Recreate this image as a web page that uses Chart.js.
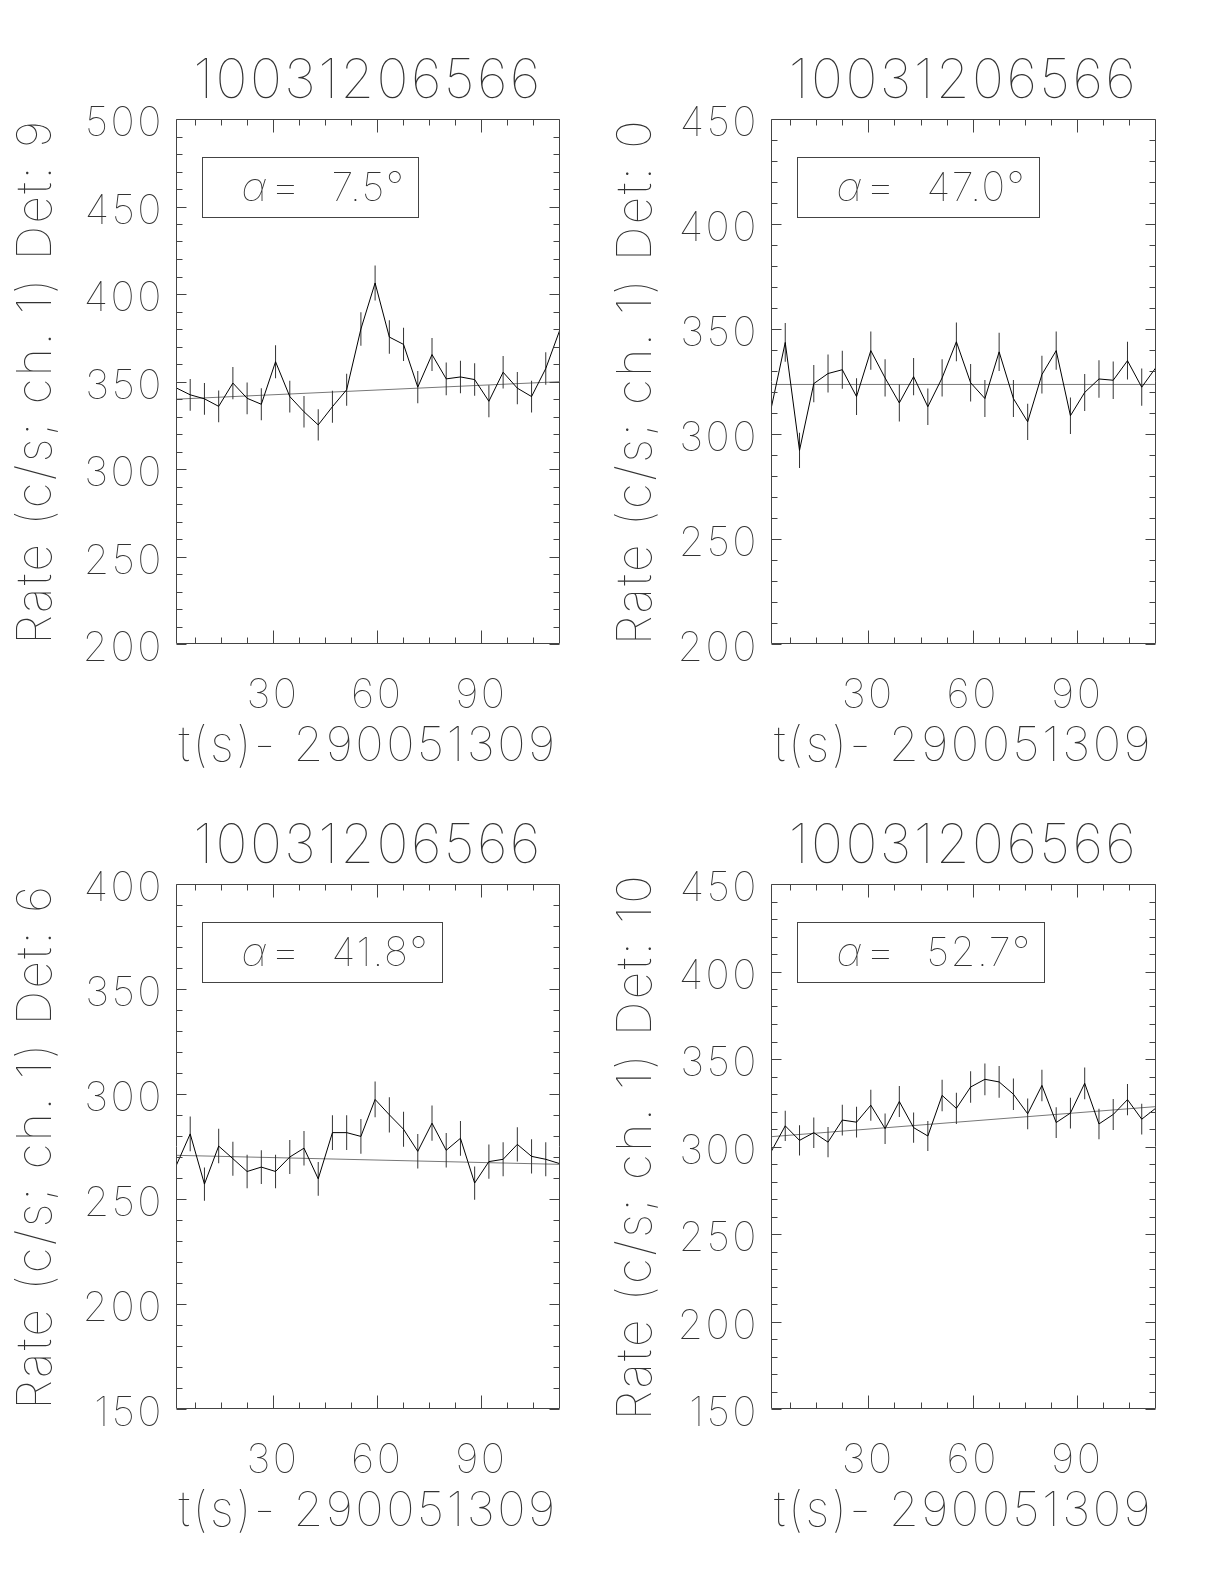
<!DOCTYPE html>
<html><head><meta charset="utf-8">
<script src="https://cdn.jsdelivr.net/npm/chart.js@4/dist/chart.umd.min.js"></script>
<style>
html,body{margin:0;padding:0;background:#fff;}
body{width:1224px;height:1584px;position:relative;overflow:hidden;}
.panel{position:absolute;width:612px;height:792px;}
</style></head><body>
<div class="panel" style="left:0;top:0"><canvas id="c1" width="612" height="792"></canvas></div>
<div class="panel" style="left:600px;top:0"><canvas id="c2" width="612" height="792"></canvas></div>
<div class="panel" style="left:0;top:765px"><canvas id="c3" width="612" height="792"></canvas></div>
<div class="panel" style="left:600px;top:765px"><canvas id="c4" width="612" height="792"></canvas></div>
<script>
// ---- data ----
const times = [2.05, 6.14, 10.24, 14.34, 18.43, 22.53, 26.62, 30.72, 34.82, 38.91, 43.01, 47.10, 51.20, 55.30,
               59.39, 63.49, 67.58, 71.68, 75.78, 79.87, 83.97, 88.06, 92.16, 96.26, 100.35, 104.45, 108.54, 112.64];
const xMinorTicks = [7.5, 15, 22.5, 30, 37.5, 45, 52.5, 60, 67.5, 75, 82.5, 90, 97.5, 105];
const xMajorTicks = [30, 60, 90];
const plotTitle = '10031206566';
const xTitle = 't(s)- 290051309';

const rateDet9 = [346.4, 342.4, 340.1, 335.8, 349.1, 340.4, 337.0, 361.3, 341.4, 332.7, 325.2, 335.6, 345.3, 380.0,
                  406.3, 375.4, 371.2, 346.8, 365.4, 351.5, 352.6, 351.1, 338.7, 355.3, 346.2, 341.4, 357.4, 379.7];
const errDet9  = [9.2, 9.1, 9.1, 9.1, 9.2, 9.1, 9.1, 9.4, 9.1, 9.0, 8.9, 9.1, 9.2, 9.6,
                  10.0, 9.6, 9.5, 9.2, 9.4, 9.3, 9.3, 9.3, 9.1, 9.3, 9.2, 9.1, 9.3, 9.6];
const fitDet9  = [339.9, 349.9];

const rateDet0 = [311.9, 343.6, 292.2, 324.0, 328.8, 330.6, 317.8, 339.7, 326.7, 314.8, 327.3, 313.0, 326.7, 343.9,
                  324.4, 316.9, 339.1, 316.9, 305.8, 328.3, 339.7, 308.7, 319.8, 326.2, 325.6, 334.9, 322.3, 331.7];
const errDet0  = [8.7, 9.2, 8.4, 8.9, 9.0, 9.0, 8.8, 9.1, 8.9, 8.8, 8.9, 8.7, 8.9, 9.2,
                  8.9, 8.8, 9.1, 8.8, 8.6, 9.0, 9.1, 8.7, 8.8, 8.9, 8.9, 9.0, 8.9, 9.0];
const fitDet0  = [323.6, 323.6];

const rateDet6 = [265.7, 281.0, 257.1, 275.2, 269.2, 263.1, 265.2, 263.1, 270.0, 274.2, 259.6, 281.6, 281.6, 279.8,
                  297.4, 290.1, 283.2, 272.7, 286.1, 273.2, 278.9, 257.6, 267.8, 268.9, 276.0, 270.3, 268.9, 266.8];
const errDet6  = [8.1, 8.3, 7.9, 8.2, 8.1, 8.0, 8.0, 8.0, 8.1, 8.2, 8.0, 8.3, 8.3, 8.3,
                  8.5, 8.4, 8.3, 8.2, 8.4, 8.2, 8.3, 7.9, 8.1, 8.1, 8.2, 8.1, 8.1, 8.1];
const fitDet6  = [270.8, 266.5];

const rateDet10 = [296.9, 311.8, 303.5, 307.9, 302.5, 315.1, 313.9, 323.6, 310.2, 325.7, 310.8, 306.0, 329.2, 321.8,
                   334.0, 338.4, 336.9, 329.9, 318.7, 334.9, 313.7, 319.1, 336.1, 312.9, 318.3, 326.8, 315.6, 322.0];
const errDet10  = [8.5, 8.7, 8.6, 8.7, 8.6, 8.8, 8.8, 8.9, 8.7, 8.9, 8.7, 8.6, 9.0, 8.9,
                   9.0, 9.1, 9.1, 9.0, 8.8, 9.0, 8.8, 8.8, 9.1, 8.7, 8.8, 8.9, 8.8, 8.9];
const fitDet10  = [305.6, 322.8];

const detectors = ['9', '0', '6', '10'];
const alphas = ['7.5', '47.0', '41.8', '52.7'];
const yRanges = [[200, 500], [200, 450], [150, 400], [150, 450]];
const rates = [rateDet9, rateDet0, rateDet6, rateDet10];
const errs = [errDet9, errDet0, errDet6, errDet10];
const fits = [fitDet9, fitDet0, fitDet6, fitDet10];

// ---- layout (pixels) ----
const canvasIds = ['c1', 'c2', 'c3', 'c4'];
const leftWidths = [176, 171, 176, 171];
const rightPads = [52, 56, 52, 56];

const FONT = "Inter, 'DejaVu Sans', sans-serif";
const TXT = '#333';
const W = 100;
Chart.defaults.font.family = FONT;
Chart.defaults.font.weight = W;
Chart.defaults.color = TXT;

const spacing = {
  id: 'spacing',
  beforeDraw(chart) { chart.ctx.letterSpacing = '2.5px'; }
};

const frameTicks = {
  id: 'frameTicks',
  afterDatasetsDraw(chart) {
    const {ctx, chartArea: a, scales: {x, y}} = chart;
    ctx.save();
    ctx.strokeStyle = '#444';
    ctx.lineWidth = 1;
    const L = Math.round(a.left) + 0.5, R = Math.round(a.right) - 0.5;
    const T = Math.round(a.top) + 0.5, B = Math.round(a.bottom) - 0.5;
    ctx.beginPath();
    ctx.rect(L, T, R - L, B - T);
    x.ticks.forEach(t => {
      const px = Math.round(x.getPixelForValue(t.value)) + 0.5;
      const len = xMajorTicks.includes(t.value) ? 13 : 6;
      ctx.moveTo(px, B); ctx.lineTo(px, B - len);
      ctx.moveTo(px, T); ctx.lineTo(px, T + len);
    });
    y.ticks.forEach(t => {
      const py = Math.round(y.getPixelForValue(t.value)) + 0.5;
      const len = t.value % 50 === 0 ? 10 : 6;
      ctx.moveTo(L, py); ctx.lineTo(L + len, py);
      ctx.moveTo(R, py); ctx.lineTo(R - len, py);
    });
    ctx.stroke();
    ctx.restore();
  }
};

const alphaBox = {
  id: 'alphaBox',
  afterDraw(chart, args, opts) {
    const {ctx, chartArea: a} = chart;
    ctx.save();
    ctx.letterSpacing = '1.5px';
    const bx = Math.round(a.left + 26) + 0.5, by = Math.round(a.top + 38) + 0.5;
    const ty = by + 31;
    ctx.fillStyle = TXT;
    ctx.textBaseline = 'middle';
    ctx.textAlign = 'left';
    ctx.font = "italic " + W + " 40px " + FONT;
    ctx.fillText('\u03B1', bx + 39, ty);
    ctx.font = W + " 40px " + FONT;
    ctx.save();
    ctx.translate(bx + 67, ty);
    ctx.scale(1.25, 1);
    ctx.fillText('=', 0, 0);
    ctx.restore();
    const label = opts.value + '\u00B0';
    const numX = bx + 129;
    ctx.fillText(label, numX, ty);
    const w = Math.round(numX + ctx.measureText(label).width + 13 - bx);
    ctx.strokeStyle = '#444';
    ctx.lineWidth = 1;
    ctx.strokeRect(bx, by, w, 60);
    ctx.restore();
  }
};

for (let p = 0; p < 4; p++) {
  const rate = rates[p], err = errs[p], fit = fits[p];
  const lineData = times.map((t, i) => ({x: t, y: rate[i]}));
  const barData = times.map((t, i) => ({x: t, y: [rate[i] - err[i], rate[i] + err[i]]}));
  const fitData = [{x: times[0], y: fit[0]}, {x: times[times.length - 1], y: fit[1]}];
  const lw = leftWidths[p];
  new Chart(document.getElementById(canvasIds[p]), {
    type: 'line',
    data: {
      datasets: [
        {type: 'line', data: lineData, borderColor: '#000', borderWidth: 1, pointRadius: 0, tension: 0, order: 1},
        {type: 'bar', data: barData, backgroundColor: '#333', borderWidth: 0, barThickness: 1,
         inflateAmount: 0, grouped: false, order: 2},
        {type: 'line', data: fitData, borderColor: '#777', borderWidth: 1, pointRadius: 0, tension: 0, order: 3}
      ]
    },
    options: {
      responsive: false,
      animation: false,
      events: [],
      layout: {padding: {left: 0, right: rightPads[p], top: 0, bottom: 0}},
      plugins: {
        legend: {display: false},
        tooltip: {enabled: false},
        title: {display: true, text: plotTitle, fullSize: false, color: TXT,
                font: {size: 54, weight: W}, padding: {top: 49, bottom: 5.2}},
        alphaBox: {value: alphas[p]}
      },
      scales: {
        x: {
          type: 'linear', offset: false,
          min: times[0], max: times[times.length - 1],
          grid: {display: false, drawTicks: false, offset: false},
          border: {display: false},
          afterBuildTicks: s => { s.ticks = xMinorTicks.map(v => ({value: v})); },
          ticks: {autoSkip: false, maxRotation: 0, minRotation: 0, padding: 27, color: TXT,
                  font: {size: 41, weight: W},
                  callback: v => xMajorTicks.includes(v) ? String(v) : ''},
          title: {display: true, text: xTitle, color: TXT, font: {size: 48, weight: W},
                  padding: {top: 0, bottom: 17}},
          afterFit: s => { s.height = 148; }
        },
        y: {
          type: 'linear', min: yRanges[p][0], max: yRanges[p][1],
          grid: {display: false, drawTicks: false},
          border: {display: false},
          ticks: {stepSize: 10, autoSkip: false, padding: 12, color: TXT, labelOffset: 5,
                  font: {size: 41, weight: W},
                  callback: v => v % 50 === 0 ? String(v) : ''},
          title: {display: true, text: 'Rate (c/s; ch. 1) Det: ' + detectors[p], color: TXT,
                  font: {size: 48, weight: W}, padding: {top: 8, bottom: 0}},
          afterFit: s => { s.width = lw; }
        }
      }
    },
    plugins: [spacing, frameTicks, alphaBox]
  });
}
</script>
</body></html>
